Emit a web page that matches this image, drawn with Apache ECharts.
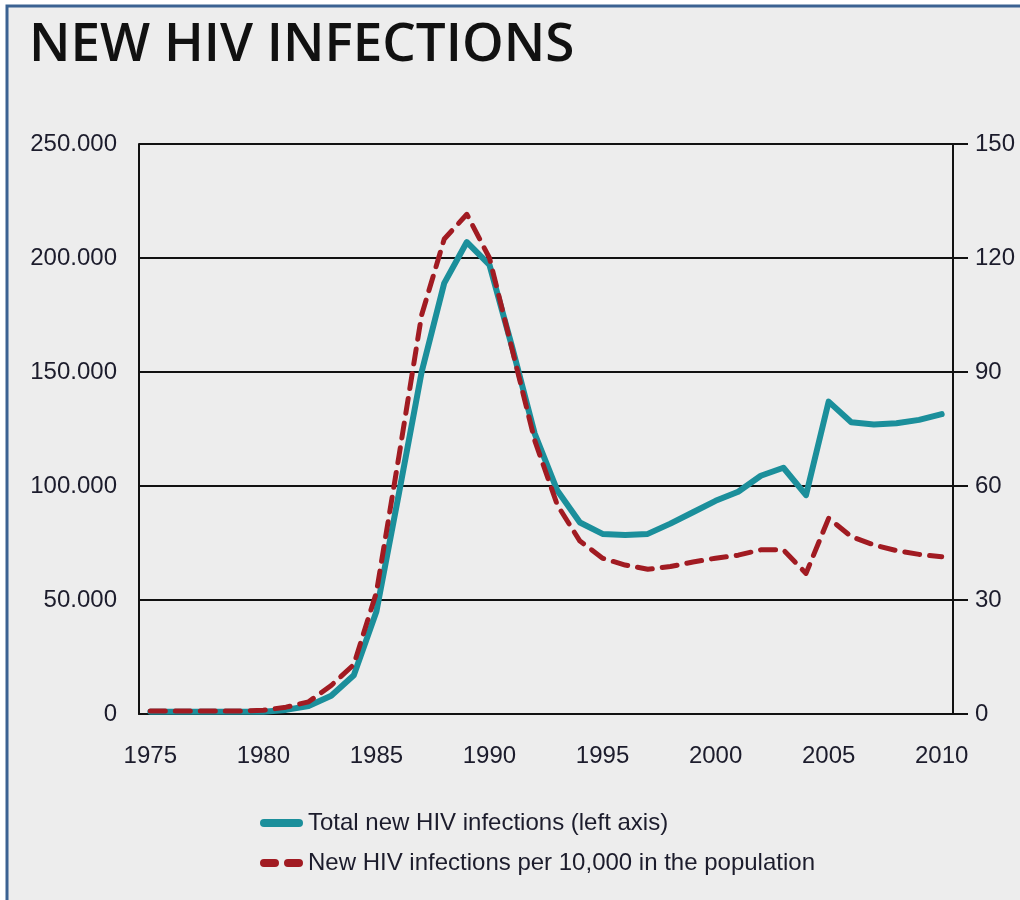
<!DOCTYPE html>
<html>
<head>
<meta charset="utf-8">
<script src="https://cdn.jsdelivr.net/npm/echarts@6/dist/echarts.min.js"></script>
<style>
html,body{margin:0;padding:0;background:#fff;}
#c{width:1020px;height:900px;}
</style>
</head>
<body>
<div id="c"></div>
<script>
const years = ['1975','1976','1977','1978','1979','1980','1981','1982','1983','1984','1985','1986','1987','1988','1989','1990','1991','1992','1993','1994','1995','1996','1997','1998','1999','2000','2001','2002','2003','2004','2005','2006','2007','2008','2009','2010'];
const totalNew = [1000,1000,1000,1000,1000,1000,1800,3500,8000,17000,45000,97000,150000,189000,207000,197000,161000,123000,98000,84000,79000,78500,79000,83500,88500,93500,97500,104500,108000,96000,137000,128000,127000,127500,129000,131500];
const per10k = [0.8,0.8,0.8,0.8,0.8,1.0,1.8,3.2,7.5,13,32,68,105,125,131.5,120,96,72,55,45.5,41,39.2,38.1,38.8,40,41,41.8,43.2,43.2,37,51.5,46.7,44.5,43,42,41.4];
const leftTicks = {min:0, max:250000, interval:50000};
const rightTicks = {min:0, max:150, interval:30};
const titleText = 'NEW HIV INFECTIONS';
const seriesNames = ['Total new HIV infections (left axis)', 'New HIV infections per 10,000 in the population'];

const chart = echarts.init(document.getElementById('c'));
const font = 'Liberation Sans, Arial, sans-serif';
const txt = '#1c1c2c';
const teal = '#1b8f9b';
const red = '#a11b22';
chart.setOption({
  backgroundColor: '#ffffff',
  animation: false,
  graphic: [{
    type: 'rect', z: -10, silent: true,
    shape: {x: 7, y: 6, width: 1100, height: 1000},
    style: {fill: '#ededed', stroke: '#3b6292', lineWidth: 3}
  }],
  title: {
    text: titleText, left: 24, top: 14,
    textStyle: {fontFamily: 'Open Sans', fontWeight: 600, fontSize: 53, color: '#111'}
  },
  legend: {
    orient: 'vertical', left: 255, top: 805,
    itemWidth: 43, itemHeight: 8, itemGap: 14,
    textStyle: {fontFamily: font, fontSize: 24, lineHeight: 26, color: txt},
    data: [
      {name: seriesNames[0], icon: 'path://M4,0 H39 A4,4 0 0 1 39,8 H4 A4,4 0 0 1 4,0 Z', itemStyle: {color: teal}},
      {name: seriesNames[1], icon: 'path://M4,0 H15 A4,4 0 0 1 15,8 H4 A4,4 0 0 1 4,0 Z M28,0 H39 A4,4 0 0 1 39,8 H28 A4,4 0 0 1 28,0 Z', itemStyle: {color: red}}
    ]
  },
  grid: {left: 139, right: 67, top: 144, bottom: 186, containLabel: false},
  xAxis: {
    type: 'category', data: years, boundaryGap: true,
    axisLine: {lineStyle: {color: '#111', width: 2}},
    axisTick: {show: false},
    axisLabel: {interval: 4, margin: 30, fontFamily: font, fontSize: 24, color: txt}
  },
  yAxis: [{
    type: 'value', position: 'left', min: leftTicks.min, max: leftTicks.max, interval: leftTicks.interval,
    axisLine: {show: true, lineStyle: {color: '#111', width: 2}},
    axisTick: {show: false},
    splitLine: {show: true, lineStyle: {color: '#111', width: 2}},
    axisLabel: {margin: 22, fontFamily: font, fontSize: 24, color: txt,
      formatter: v => v === 0 ? '0' : (v / 1000).toFixed(3)}
  }, {
    type: 'value', position: 'right', min: rightTicks.min, max: rightTicks.max, interval: rightTicks.interval,
    axisLine: {show: true, lineStyle: {color: '#111', width: 2}},
    axisTick: {show: true, length: 15, lineStyle: {color: '#111', width: 2}},
    splitLine: {show: false},
    axisLabel: {margin: 22, fontFamily: font, fontSize: 24, color: txt}
  }],
  series: [{
    name: seriesNames[0], type: 'line', yAxisIndex: 0, data: totalNew,
    showSymbol: false, symbol: 'none', z: 3,
    lineStyle: {color: teal, width: 6, cap: 'round', join: 'round'},
    itemStyle: {color: teal}
  }, {
    name: seriesNames[1], type: 'line', yAxisIndex: 1, data: per10k,
    showSymbol: false, symbol: 'none', z: 4,
    lineStyle: {color: red, width: 5, type: [15, 10], cap: 'round', join: 'round'},
    itemStyle: {color: red}
  }]
});
</script>
</body>
</html>
